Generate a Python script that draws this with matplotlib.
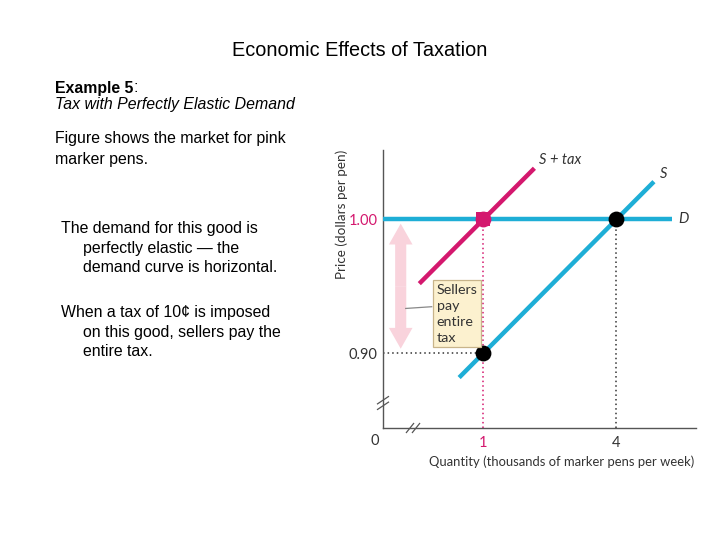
import matplotlib
matplotlib.use("Agg")
import matplotlib.pyplot as plt
from matplotlib.patches import FancyArrowPatch

# ---- data ----
demand_q = [-1.27, 5.26]
demand_p = [1.00, 1.00]
supply_q = [0.45, 4.85]
supply_p = [0.882, 1.028]
supply_tax_q = [-0.45, 2.15]
supply_tax_p = [0.952, 1.038]
eq_pink_q, eq_pink_p = 1, 1.00
eq_black_q = [4, 1]
eq_black_p = [1.00, 0.90]
xtick_vals = [1, 4]
xtick_labels = ["1", "4"]
ytick_vals = [0.90, 1.00]
ytick_labels = ["0.90", "1.00"]
tax_arrow_q = -0.87
tax_arrow_p = [0.9967, 0.9035]

W, H = 720, 540
fig = plt.figure(figsize=(7.2, 5.4), dpi=100)
fig.patch.set_facecolor("white")

def fx(px):
    return px / W

def fy(py):
    return 1 - py / H

BLUE = "#1eaed6"
PINK = "#d4186e"
CF = "Lato"
LF = "Liberation Sans"
LS = 11.4

# ---- left texts ----
fig.text(fx(360), fy(50), "Economic Effects of Taxation", ha="center", va="center",
         fontsize=14.3, family=LF)
t_ex = fig.text(fx(55), fy(88), "Example 5", ha="left", va="center", fontsize=LS,
                family=LF, weight="bold")
renderer = fig.canvas.get_renderer()
bb = t_ex.get_window_extent(renderer)
fig.text(bb.x1 / W, fy(88), ":", ha="left", va="center", fontsize=LS, family=LF)
fig.text(fx(55), fy(104), "Tax with Perfectly Elastic Demand", ha="left", va="center",
         fontsize=LS, family=LF, style="italic")
fig.text(fx(55), fy(139), "Figure shows the market for pink", ha="left", va="center",
         fontsize=LS, family=LF)
fig.text(fx(55), fy(159), "marker pens.", ha="left", va="center",
         fontsize=LS, family=LF)

lines = [
    (61, 229, "The demand for this good is"),
    (83, 248, "perfectly elastic \u2014 the"),
    (83, 268, "demand curve is horizontal."),
    (61, 312, "When a tax of 10\u00a2 is imposed"),
    (83, 332, "on this good, sellers pay the"),
    (83, 351, "entire tax."),
]
for x, y, t in lines:
    fig.text(fx(x), fy(y), t, ha="left", va="center", fontsize=LS, family=LF)

# ---- chart ----
ax_l, ax_r, ax_t, ax_b = 383, 696, 150, 428
XMIN, XMAX, YMIN, YMAX = -1.27, 5.8, 0.8444, 1.0516
ax = fig.add_axes([fx(ax_l), fy(ax_b), (ax_r - ax_l) / W, (ax_b - ax_t) / H])
ax.set_xlim(XMIN, XMAX)
ax.set_ylim(YMIN, YMAX)
PXQ = (ax_r - ax_l) / (XMAX - XMIN)
PXP = (ax_b - ax_t) / (YMAX - YMIN)
for s in ["top", "right"]:
    ax.spines[s].set_visible(False)
for s in ["left", "bottom"]:
    ax.spines[s].set_color("#555555")
    ax.spines[s].set_linewidth(1.0)
ax.set_facecolor("none")

# dotted guides
ax.plot([eq_pink_q, eq_pink_q], [YMIN, eq_pink_p], ls=(0, (1, 2)), color=PINK, lw=1.1)
ax.plot([eq_black_q[0], eq_black_q[0]], [YMIN, eq_black_p[0]], ls=(0, (1, 2)), color="#333333", lw=1.1)
ax.plot([XMIN, eq_black_q[1]], [eq_black_p[1], eq_black_p[1]], ls=(0, (1, 2)), color="#333333", lw=1.1)

# tax arrow (double headed, light pink)
mid = (tax_arrow_p[0] + tax_arrow_p[1]) / 2
for end in tax_arrow_p:
    ax.add_patch(FancyArrowPatch((tax_arrow_q, mid), (tax_arrow_q, end),
                                 arrowstyle="simple,head_length=0.75,head_width=0.85,tail_width=0.4",
                                 mutation_scale=20, color="#f9d3dc", lw=0,
                                 shrinkA=0, shrinkB=0, zorder=1))
ax.plot([tax_arrow_q + 5 / PXQ, tax_arrow_q + 31 / PXQ], [0.9335, 0.9348], color="#888888", lw=0.9)

# curves
ax.plot(demand_q, demand_p, color=BLUE, lw=3.2, solid_capstyle="butt", zorder=3)
ax.plot(supply_q, supply_p, color=BLUE, lw=3.2, solid_capstyle="butt", zorder=3)
ax.plot(supply_tax_q, supply_tax_p, color=PINK, lw=3.2, solid_capstyle="butt", zorder=4)

# points
ax.scatter([eq_pink_q], [eq_pink_p], s=110, color=PINK, marker="s", zorder=5, linewidths=0)
ax.scatter([eq_pink_q], [eq_pink_p], s=130, color=PINK, marker="o", zorder=5, linewidths=0)
ax.scatter(eq_black_q, eq_black_p, s=130, color="black", zorder=5, linewidths=0)

# curve labels
ax.text(supply_tax_q[1] + 0.1, supply_tax_p[1] + 0.006, "S", family=CF, style="italic",
        fontsize=10.5, color="#333333", ha="left", va="center")
ax.text(supply_tax_q[1] + 0.35, supply_tax_p[1] + 0.006, "+ tax", family=CF, style="italic",
        fontsize=10.5, color="#333333", ha="left", va="center")
ax.text(supply_q[1] + 0.13, supply_p[1] + 0.006, "S", family=CF, style="italic",
        fontsize=10.5, color="#333333", ha="left", va="center")
ax.text(demand_q[1] + 0.15, demand_p[1], "D", family=CF, style="italic",
        fontsize=10.5, color="#333333", ha="left", va="center")

# label box
ax.text(-0.06, 0.9295, "Sellers\npay\nentire\ntax", family=CF, fontsize=10.3,
        color="#333333", ha="left", va="center", linespacing=1.42, zorder=6,
        bbox=dict(boxstyle="square,pad=0.22", fc="#fcf1cf", ec="#c8b48a", lw=0.9))

# ticks
ax.set_xticks(xtick_vals)
ax.set_xticklabels(xtick_labels, family=CF, fontsize=10.5)
ax.set_yticks(ytick_vals)
ax.set_yticklabels(ytick_labels, family=CF, fontsize=10.5)
ax.tick_params(axis="x", length=0, pad=6, colors="#333333")
ax.tick_params(axis="y", length=0, pad=4, colors="#333333")
ax.get_xticklabels()[0].set_color(PINK)
ax.get_yticklabels()[1].set_color(PINK)
ax.text(XMIN - 8 / PXQ, YMIN - 13 / PXP, "0", family=CF, fontsize=10.5, color="#333333",
        ha="center", va="center", clip_on=False)

# axis break marks
yb = YMIN + (ax_b - 403) / PXP
for off in (-2.8, 2.8):
    ax.plot([XMIN - 6 / PXQ, XMIN + 6 / PXQ],
            [yb + (off - 4) / PXP, yb + (off + 4) / PXP],
            color="#555555", lw=0.9, clip_on=False, solid_capstyle="butt")
xb = XMIN + (413 - ax_l) / PXQ
for off in (-3, 3):
    ax.plot([xb + (off - 4) / PXQ, xb + (off + 4) / PXQ],
            [YMIN - 5 / PXP, YMIN + 5 / PXP],
            color="#555555", lw=0.9, clip_on=False, solid_capstyle="butt")

ax.set_xlabel("Quantity (thousands of marker pens per week)", family=CF, fontsize=9.4,
              color="#333333")
ax.xaxis.set_label_coords(0.572, -0.097)
ax.set_ylabel("Price (dollars per pen)", family=CF, fontsize=9.7, color="#333333")
ax.yaxis.set_label_coords(-0.112, 0.77)

fig.savefig("out.png", dpi=100)
